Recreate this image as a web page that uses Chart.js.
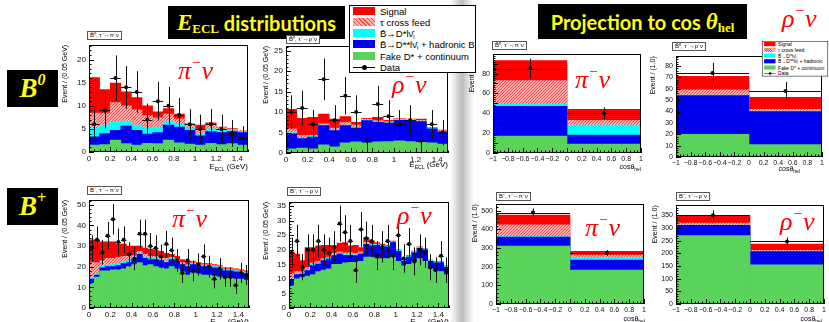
<!DOCTYPE html>
<html>
<head>
<meta charset="utf-8">
<script src="https://cdn.jsdelivr.net/npm/chart.js@4.4.0/dist/chart.umd.min.js"></script>
<style>
body { margin:0; width:829px; height:322px; position:relative; overflow:hidden; background:#fff; font-family:'Liberation Sans', Arial, sans-serif; }
.panel { position:absolute; }
.panel canvas { display:block; }
.band { position:absolute; left:450px; top:0; width:24px; height:322px;
  background:linear-gradient(to right, rgba(190,190,190,0), #bdbdbd 50%, rgba(210,210,210,0)); }
.box { position:absolute; background:#000; color:#ffff14; display:flex; align-items:center; justify-content:center; white-space:nowrap; font:bold 20px Lato, sans-serif; }
.mi { font:italic bold 23px 'Liberation Serif', serif; }
.sb { font:bold 13px 'Liberation Serif', serif; position:relative; top:6px; }
.sp { font:italic bold 16px 'Liberation Serif', serif; position:relative; top:-9px; }
.hdr { position:absolute; border:1px solid #555; background:#fff; font-size:6px; line-height:7px; padding:0 2px; white-space:nowrap; color:#000; }
.tag { position:absolute; color:#f00; font:italic 26px/26px 'Liberation Serif', serif; white-space:nowrap; }
.tag .m { font-size:0.6em; position:relative; top:-0.7em; }
.xt { position:absolute; font-size:8px; line-height:9px; white-space:nowrap; color:#000; }
.xt sub { font-size:5px; vertical-align:-2px; }
.leg { position:absolute; background:#fff; border:1px solid #000; font-size:9.5px; line-height:11px; color:#000; }
.leg .r { position:absolute; left:30px; white-space:nowrap; }
.leg i { position:absolute; left:-27px; top:1px; width:22px; height:8px; }
.leg sub { font-size:6px; vertical-align:-2px; }
</style>
</head>
<body>
<div class="band"></div>

<div id="p1" class="panel"><canvas></canvas></div>
<div id="p2" class="panel"><canvas></canvas></div>
<div id="p3" class="panel"><canvas></canvas></div>
<div id="p4" class="panel"><canvas></canvas></div>
<div id="p5" class="panel"><canvas></canvas></div>
<div id="p6" class="panel"><canvas></canvas></div>
<div id="p7" class="panel"><canvas></canvas></div>
<div id="p8" class="panel"><canvas></canvas></div>

<div class="box" style="left:168px;top:6px;width:177px;height:33px;"><span class="mi">E</span><span class="sb">ECL</span>&nbsp;distributions</div>
<div class="box" style="left:538px;top:4px;width:209px;height:35px;">Projection to cos&nbsp;<span class="mi">θ</span><span class="sb">hel</span></div>
<div class="box" style="left:7px;top:70px;width:51px;height:37px;"><span class="mi" style="font-size:27px">B</span><span class="sp">0</span></div>
<div class="box" style="left:7px;top:188px;width:51px;height:37px;"><span class="mi" style="font-size:27px">B</span><span class="sp">+</span></div>

<div class="hdr" style="left:87px;top:31px;">B̄⁰, τ⁻→π⁻ν</div>
<div class="hdr" style="left:286px;top:35px;">B̄⁰, τ⁻→ρ⁻ν</div>
<div class="hdr" style="left:492px;top:41px;">B̄⁰, τ⁻→π⁻ν</div>
<div class="hdr" style="left:672px;top:42px;">B̄⁰, τ⁻→ρ⁻ν</div>
<div class="hdr" style="left:87px;top:186px;">B⁻, τ⁻→π⁻ν</div>
<div class="hdr" style="left:287px;top:187px;">B⁻, τ⁻→ρ⁻ν</div>
<div class="hdr" style="left:496px;top:192px;">B⁻, τ⁻→π⁻ν</div>
<div class="hdr" style="left:676px;top:192px;">B⁻, τ⁻→ρ⁻ν</div>

<div class="xt" style="right:581px;top:162px;">E<sub>ECL</sub> (GeV)</div>
<div class="xt" style="right:381px;top:160px;">E<sub>ECL</sub> (GeV)</div>
<div class="xt" style="right:188px;top:162px;font-size:7px">cosθ<sub>hel</sub></div>
<div class="xt" style="right:29px;top:164px;font-size:7px">cosθ<sub>hel</sub></div>
<div class="xt" style="right:580px;top:317px;">E<sub>ECL</sub> (GeV)</div>
<div class="xt" style="right:380px;top:317px;">E<sub>ECL</sub> (GeV)</div>
<div class="xt" style="right:184px;top:314px;font-size:7px">cosθ<sub>hel</sub></div>
<div class="xt" style="right:7px;top:314px;font-size:7px">cosθ<sub>hel</sub></div>

<div class="leg" style="left:349px;top:5px;width:125px;height:66px;">
  <div class="r" style="top:0px"><i style="background:#f00"></i>Signal</div>
  <div class="r" style="top:11px"><i class="hat"></i>τ cross feed</div>
  <div class="r" style="top:22px"><i style="background:#0ff"></i>B̄→D*lν̄<sub>l</sub></div>
  <div class="r" style="top:33px"><i style="background:#0000f0"></i>B̄→D**lν̄<sub>l</sub> + hadronic B</div>
  <div class="r" style="top:45px"><i style="background:#5ad35a"></i>Fake D* + continuum</div>
  <div class="r" style="top:56px"><i style="height:1px;top:5px;background:#000"></i><i style="left:-18px;top:3px;width:5px;height:5px;border-radius:3px;background:#000"></i>Data</div>
</div>
<div class="leg" style="left:762px;top:41px;width:125px;height:66px;transform:scale(0.52);transform-origin:0 0;">
  <div class="r" style="top:0px"><i style="background:#f00"></i>Signal</div>
  <div class="r" style="top:11px"><i class="hat"></i>τ cross feed</div>
  <div class="r" style="top:22px"><i style="background:#0ff"></i>B̄→D*lν̄<sub>l</sub></div>
  <div class="r" style="top:33px"><i style="background:#0000f0"></i>B̄→D**lν̄<sub>l</sub> + hadronic</div>
  <div class="r" style="top:45px"><i style="background:#5ad35a"></i>Fake D* + continuum</div>
  <div class="r" style="top:56px"><i style="height:1px;top:5px;background:#000"></i><i style="left:-18px;top:3px;width:5px;height:5px;border-radius:3px;background:#000"></i>Data</div>
</div>

<div class="tag" style="left:178px;top:58px;">π<span class="m">−</span>ν</div>
<div class="tag" style="left:392px;top:72px;">ρ<span class="m">−</span>ν</div>
<div class="tag" style="left:575px;top:67px;">π<span class="m">−</span>ν</div>
<div class="tag" style="left:782px;top:6px;">ρ<span class="m">−</span>ν</div>
<div class="tag" style="left:172px;top:206px;">π<span class="m">−</span>ν</div>
<div class="tag" style="left:397px;top:203px;">ρ<span class="m">−</span>ν</div>
<div class="tag" style="left:585px;top:215px;">π<span class="m">−</span>ν</div>
<div class="tag" style="left:780px;top:209px;">ρ<span class="m">−</span>ν</div>

<script>
// bin centres
const binsE15 = [0.05, 0.15, 0.25, 0.35, 0.45, 0.55, 0.65, 0.75, 0.85, 0.95, 1.05, 1.15, 1.25, 1.35, 1.45];
const binsE30 = [0.025, 0.075, 0.125, 0.175, 0.225, 0.275, 0.325, 0.375, 0.425, 0.475,
  0.525, 0.575, 0.625, 0.675, 0.725, 0.775, 0.825, 0.875, 0.925, 0.975,
  1.025, 1.075, 1.125, 1.175, 1.225, 1.275, 1.325, 1.375, 1.425, 1.475];
const binsCos = [-0.5, 0.5];

// stacked histograms, cumulative tops: fake D*, D**, D*, tau cross feed, signal
// B0 pi nu, E_ECL
const p1Green = [1.5, 1.6, 2.6, 1.8, 1.5, 1.9, 1.8, 2.6, 2.0, 1.7, 1.5, 1.9, 1.6, 1.8, 1.5];
const p1Blue = [3.3, 4.0, 4.7, 5.6, 4.7, 3.9, 4.2, 5.8, 5.4, 4.7, 3.5, 4.4, 4.2, 4.4, 4.2];
const p1Cyan = [5.1, 5.8, 6.5, 6.7, 5.8, 5.3, 5.4, 6.7, 6.1, 5.2, 4.0, 5.0, 4.7, 4.6, 4.4];
const p1Hatch = [8.4, 8.4, 10.7, 10.0, 9.1, 7.9, 7.4, 8.2, 7.2, 5.8, 4.7, 5.8, 5.3, 5.0, 4.7];
const p1Red = [16.1, 13.5, 14.9, 13.0, 11.8, 10.0, 8.7, 9.4, 8.2, 6.1, 5.8, 6.3, 5.4, 5.1, 4.7];
const p1Data = [6, 9, 16, 14, 13, 7, 11, 10, 8, 6, 5, 6, 5, 4, 3];
const p1Err = [3.3, 3.9, 4.9, 4.6, 4.5, 3.5, 4.2, 4.1, 3.7, 3.3, 3.1, 3.3, 3.1, 2.9, 2.6];

// B0 rho nu, E_ECL
const p2Green = [1.0, 1.2, 1.0, 2.0, 1.5, 2.5, 2.7, 2.5, 2.7, 2.8, 3.0, 2.8, 2.7, 2.5, 2.2];
const p2Blue = [4.7, 3.5, 3.9, 6.7, 5.5, 6.7, 6.1, 7.9, 7.5, 7.3, 8.0, 7.9, 7.7, 5.9, 5.2];
const p2Cyan = [4.9, 3.6, 4.2, 6.8, 5.6, 6.8, 6.2, 8.0, 7.6, 7.4, 8.1, 8.0, 7.8, 6.0, 5.3];
const p2Hatch = [5.9, 4.3, 4.3, 7.1, 6.1, 7.5, 6.9, 8.3, 7.9, 7.7, 8.4, 8.2, 8.0, 6.2, 5.5];
const p2Red = [10.7, 8.5, 8.7, 9.5, 8.3, 8.9, 7.5, 8.5, 8.7, 8.0, 8.5, 8.3, 8.3, 6.3, 5.6];
const p2Data = [10, 11, 7, 18, 8, 14, 10, 3, 12, 9, 7, 8, 3, 7, 5];
const p2Err = [4.1, 4.2, 3.5, 5.1, 3.7, 4.6, 4.1, 2.6, 4.4, 3.9, 3.5, 3.7, 2.6, 3.5, 3.1];

// B0 pi nu, cos theta_hel
const p3Green = [17, 9];
const p3Blue = [47, 18];
const p3Cyan = [49, 28];
const p3Hatch = [73, 33];
const p3Red = [93, 44];
const p3Data = [85, 40];
const p3Err = [10, 6];

// B0 rho nu, cos theta_hel
const p4Green = [20, 11];
const p4Blue = [54, 40];
const p4Cyan = [54.5, 40.3];
const p4Hatch = [59, 42];
const p4Red = [71, 52.5];
const p4Data = [74, 58];
const p4Err = [9, 8];

// B+ pi nu, E_ECL
const p5Green = [12, 15, 18, 18, 18.5, 18.5, 19, 20, 21, 22, 20.5, 21, 20, 19.5, 19, 20, 19, 17.5, 16, 17, 16.5, 16, 16, 15.5, 15, 15, 14.5, 14, 14, 13.5];
const p5Blue = [14, 16, 19.5, 20, 20, 20.5, 21.5, 22, 23.5, 26, 24, 23.5, 23.5, 23, 22, 23.5, 22.5, 21, 20, 21, 20, 20, 20, 19.5, 19, 18, 18, 17.5, 17, 16.5];
const p5Cyan = [14.6, 16.6, 20.3, 20.8, 21, 21.5, 22.5, 23, 24.3, 26.6, 24.8, 24.2, 24.2, 23.6, 22.7, 24.1, 23.1, 21.6, 20.6, 21.6, 20.6, 20.6, 20.5, 20, 19.5, 18.5, 18.5, 18, 17.5, 17];
const p5Hatch = [22, 22, 23, 24, 24, 24.5, 25, 25, 25.5, 27.5, 26, 25, 25, 24.5, 24, 24.5, 23.5, 22, 21, 22, 21, 21, 21, 20.5, 20, 19, 19, 18.5, 18, 17.5];
const p5Red = [33, 33, 32, 32, 32, 31, 31, 30, 30, 30, 29, 28.5, 28, 27.5, 26.5, 26, 25, 23.5, 22.5, 22.5, 22, 21.5, 21.5, 21, 20.5, 19.5, 19.5, 19, 18.5, 18];
const p5Data = [29, 33, 27, 35, 43, 32, 33, 26, 24, 36, 36, 30, 29, 25, 31, 28, 23, 17, 23, 18, 21, 25, 20, 14, 19, 15, 15, 11, 17, 16];
const p5Err = [6.2, 6.5, 6.0, 6.7, 7.4, 6.5, 6.5, 5.9, 5.7, 6.8, 6.8, 6.3, 6.2, 5.8, 6.4, 6.1, 5.6, 4.9, 5.6, 5.0, 5.4, 5.8, 5.3, 4.5, 5.2, 4.7, 4.7, 4.1, 4.9, 4.8];

// B+ rho nu, E_ECL
const p6Green = [7.6, 10, 10.5, 11, 11.5, 12.5, 13, 13.5, 15, 15, 15.5, 15.7, 15.7, 16, 17.5, 17.5, 17, 17, 17, 17.5, 16, 14.5, 15, 16, 17, 16, 13.5, 13, 12.5, 11.5];
const p6Blue = [9.5, 11.5, 11.7, 12.9, 14.6, 15.1, 16.3, 16.8, 18, 18.5, 18.1, 18.1, 18, 18.5, 21.9, 21.4, 21.5, 21, 21, 22.5, 19.5, 16, 17.5, 19, 20.5, 20, 16, 15.5, 15.5, 14];
const p6Cyan = [9.8, 11.8, 12, 13.2, 14.9, 15.4, 16.6, 17.1, 18.3, 18.8, 18.4, 18.4, 18.3, 18.8, 22.2, 21.7, 21.8, 21.3, 21.3, 22.8, 19.8, 16.3, 17.8, 19.3, 20.8, 20.3, 16.3, 15.8, 15.8, 14.3];
const p6Hatch = [12, 12.5, 12.5, 14, 15.5, 16, 17, 17.5, 18.8, 19.3, 19, 19, 18.8, 19.3, 22.6, 22, 22, 21.5, 21.4, 22.9, 19.9, 16.4, 17.9, 19.4, 20.9, 20.4, 16.4, 15.9, 15.9, 14.4];
const p6Red = [19.1, 18.5, 16.3, 20.8, 20.8, 21.4, 21.5, 21.5, 21.4, 22.3, 22.5, 21.4, 21.5, 20.8, 24.2, 23.1, 22.5, 22, 21.5, 23, 20, 16.6, 18, 19.6, 21, 20.5, 16.5, 16, 16, 14.5];
const p6Data = [19, 23, 14, 20, 20, 23, 20, 19, 21, 29, 26, 23, 13, 27, 24, 23, 18, 21, 23, 18, 25, 17, 22, 16, 20, 19, 14, 13, 18, 13];
const p6Err = [5.2, 5.6, 4.5, 5.3, 5.3, 5.6, 5.3, 5.2, 5.4, 6.2, 5.9, 5.6, 4.4, 6.0, 5.7, 5.6, 5.0, 5.4, 5.6, 5.0, 5.8, 4.9, 5.5, 4.8, 5.3, 5.2, 4.5, 4.4, 5.0, 4.4];

// B+ pi nu, cos theta_hel
const p7Green = [311, 182];
const p7Blue = [359, 235];
const p7Cyan = [362, 247];
const p7Hatch = [424, 262];
const p7Red = [477, 283];
const p7Data = [490, 274];
const p7Err = [22, 16];

// B+ rho nu, cos theta_hel
const p8Green = [270, 155];
const p8Blue = [311, 207];
const p8Cyan = [312, 208];
const p8Hatch = [319, 212];
const p8Red = [348, 237];
const p8Data = [350, 247];
const p8Err = [20, 16];

const PAD_T = 6, PAD_R = 6, AX_H = 12;

function hatchPattern() {
  const c = document.createElement('canvas');
  c.width = 3; c.height = 3;
  const g = c.getContext('2d');
  g.fillStyle = '#ffb0b0';
  g.fillRect(0, 0, 3, 3);
  g.fillStyle = '#f04848';
  for (let i = 0; i < 3; i++) g.fillRect(i, 2 - i, 1, 1);
  return g.createPattern(c, 'repeat');
}
const hatch = hatchPattern();
const fills = ['#5ad35a', '#0000f0', '#00ffff', hatch, '#ff0000'];

document.querySelectorAll('.hat').forEach(el => {
  el.style.background = 'repeating-linear-gradient(45deg, #f04848 0 1px, #ffb0b0 1px 3px)';
});

const fmt = v => String(Math.round(v * 100) / 100).replace('-', '\u2212');

// ROOT-like frame, inward ticks and data error bars
const rootFrame = {
  id: 'rootFrame',
  afterDatasetsDraw(chart) {
    const {ctx, chartArea: a, scales} = chart;
    const xs = scales.xv, ys = scales.y;
    ctx.save();
    ctx.strokeStyle = '#111';
    ctx.lineWidth = 1;
    chart.data.datasets.forEach(ds => {
      if (!ds.yErr) return;
      ctx.beginPath();
      ds.data.forEach((p, i) => {
        const px = Math.round(xs.getPixelForValue(p.x)) + 0.5;
        const py = Math.round(ys.getPixelForValue(p.y)) + 0.5;
        ctx.moveTo(px, ys.getPixelForValue(p.y + ds.yErr[i]));
        ctx.lineTo(px, ys.getPixelForValue(p.y - ds.yErr[i]));
        ctx.moveTo(xs.getPixelForValue(p.x - ds.xErr), py);
        ctx.lineTo(xs.getPixelForValue(p.x + ds.xErr), py);
      });
      ctx.stroke();
    });
    ctx.strokeStyle = '#000';
    ctx.strokeRect(Math.round(a.left) + 0.5, Math.round(a.top) + 0.5, Math.round(a.width) - 1, Math.round(a.height) - 1);
    const xStep = xs.options.ticks.stepSize, yStep = ys.options.ticks.stepSize;
    ctx.beginPath();
    for (let k = 0; xs.min + k * xStep / 4 <= xs.max + 1e-9; k++) {
      const px = Math.round(xs.getPixelForValue(xs.min + k * xStep / 4)) + 0.5;
      ctx.moveTo(px, a.bottom);
      ctx.lineTo(px, a.bottom - (k % 4 === 0 ? 5 : 2.5));
    }
    for (let k = 0; k * yStep / 5 <= ys.max; k++) {
      const py = Math.round(ys.getPixelForValue(k * yStep / 5)) + 0.5;
      ctx.moveTo(a.left, py);
      ctx.lineTo(a.left + (k % 5 === 0 ? 5 : 2.5), py);
    }
    ctx.stroke();
    ctx.restore();
  }
};

const panels = [
  {id: 'p1', f: {l: 89, t: 43, r: 248, b: 152, w: 28}, bins: binsE15, half: 0.05, x: [0, 1.5, 0.2], y: [23.2, 5], font: 8,
    yTitle: 'Event / (0.05 GeV)', stack: [p1Green, p1Blue, p1Cyan, p1Hatch, p1Red], data: p1Data, err: p1Err},
  {id: 'p2', f: {l: 286, t: 44, r: 448, b: 153, w: 24}, bins: binsE15, half: 0.05, x: [0, 1.5, 0.2], y: [26.2, 5], font: 8,
    yTitle: 'Event / (0.05 GeV)', stack: [p2Green, p2Blue, p2Cyan, p2Hatch, p2Red], data: p2Data, err: p2Err},
  {id: 'p3', f: {l: 493, t: 53, r: 641, b: 153, w: 25}, bins: binsCos, half: 0.5, x: [-1, 1, 0.2], y: [99.5, 10], font: 7,
    yTitle: 'Event / (1.0)', stack: [p3Green, p3Blue, p3Cyan, p3Hatch, p3Red], data: p3Data, err: p3Err},
  {id: 'p4', f: {l: 676, t: 55, r: 822, b: 157, w: 27}, bins: binsCos, half: 0.5, x: [-1, 1, 0.2], y: [88.7, 10], font: 7,
    yTitle: 'Event / (1.0)', stack: [p4Green, p4Blue, p4Cyan, p4Hatch, p4Red], data: p4Data, err: p4Err},
  {id: 'p5', f: {l: 89, t: 198, r: 249, b: 308, w: 28}, bins: binsE30, half: 0.025, x: [0, 1.5, 0.2], y: [52.4, 10], font: 8,
    yTitle: 'Event / (0.05 GeV)', stack: [p5Green, p5Blue, p5Cyan, p5Hatch, p5Red], data: p5Data, err: p5Err},
  {id: 'p6', f: {l: 289, t: 200, r: 449, b: 308, w: 27}, bins: binsE30, half: 0.025, x: [0, 1.5, 0.2], y: [36.5, 5], font: 8,
    yTitle: 'Event / (0.05 GeV)', stack: [p6Green, p6Blue, p6Cyan, p6Hatch, p6Red], data: p6Data, err: p6Err},
  {id: 'p7', f: {l: 496, t: 203, r: 644, b: 304, w: 25}, bins: binsCos, half: 0.5, x: [-1, 1, 0.2], y: [535, 100], font: 7,
    yTitle: 'Event / (1.0)', stack: [p7Green, p7Blue, p7Cyan, p7Hatch, p7Red], data: p7Data, err: p7Err},
  {id: 'p8', f: {l: 676, t: 204, r: 824, b: 304, w: 25}, bins: binsCos, half: 0.5, x: [-1, 1, 0.2], y: [390, 50], font: 7,
    yTitle: 'Event / (1.0)', stack: [p8Green, p8Blue, p8Cyan, p8Hatch, p8Red], data: p8Data, err: p8Err},
];

panels.forEach(p => {
  const f = p.f;
  const el = document.getElementById(p.id);
  const left = f.l - f.w, top = f.t - PAD_T;
  el.style.left = left + 'px';
  el.style.top = top + 'px';
  el.style.width = (f.r - left + PAD_R) + 'px';
  el.style.height = (f.b - top + AX_H) + 'px';

  const datasets = p.stack.map((vals, i) => ({
    type: 'bar', data: vals, backgroundColor: fills[i], borderWidth: 0,
    grouped: false, barPercentage: 1, categoryPercentage: 1, xAxisID: 'x', yAxisID: 'y',
  }));
  datasets.push({
    type: 'scatter', order: -1, xAxisID: 'xv', yAxisID: 'y',
    data: p.bins.map((b, i) => ({x: b, y: p.data[i]})),
    pointRadius: 2, pointBackgroundColor: '#000', pointBorderWidth: 0,
    yErr: p.err, xErr: p.half,
  });

  const tickFont = {family: "'Liberation Sans', Arial, sans-serif", size: p.font};
  new Chart(el.querySelector('canvas'), {
    type: 'bar',
    data: {labels: p.bins.map(String), datasets},
    options: {
      responsive: true,
      maintainAspectRatio: false,
      animation: false,
      events: [],
      layout: {padding: {top: PAD_T, right: PAD_R, left: 0, bottom: 0}},
      plugins: {legend: {display: false}, tooltip: {enabled: false}},
      scales: {
        x: {type: 'category', display: false, offset: true, grid: {offset: true}},
        xv: {
          type: 'linear', position: 'bottom', min: p.x[0], max: p.x[1], offset: false,
          grid: {display: false, drawTicks: false, offset: false}, border: {display: false},
          ticks: {stepSize: p.x[2], includeBounds: false, autoSkip: false, maxRotation: 0, padding: 2,
            font: tickFont, color: '#111', callback: fmt},
          afterFit: s => { s.height = AX_H; },
        },
        y: {
          type: 'linear', min: 0, max: p.y[0],
          grid: {display: false, drawTicks: false}, border: {display: false},
          ticks: {stepSize: p.y[1], includeBounds: false, padding: 3, font: tickFont, color: '#111'},
          title: {display: true, text: p.yTitle, align: 'end', padding: 0, color: '#000',
            font: {family: "'Liberation Sans', Arial, sans-serif", size: 7}},
          afterFit: s => { s.width = f.w; },
        },
      },
    },
    plugins: [rootFrame],
  });
});
</script>
</body>
</html>
